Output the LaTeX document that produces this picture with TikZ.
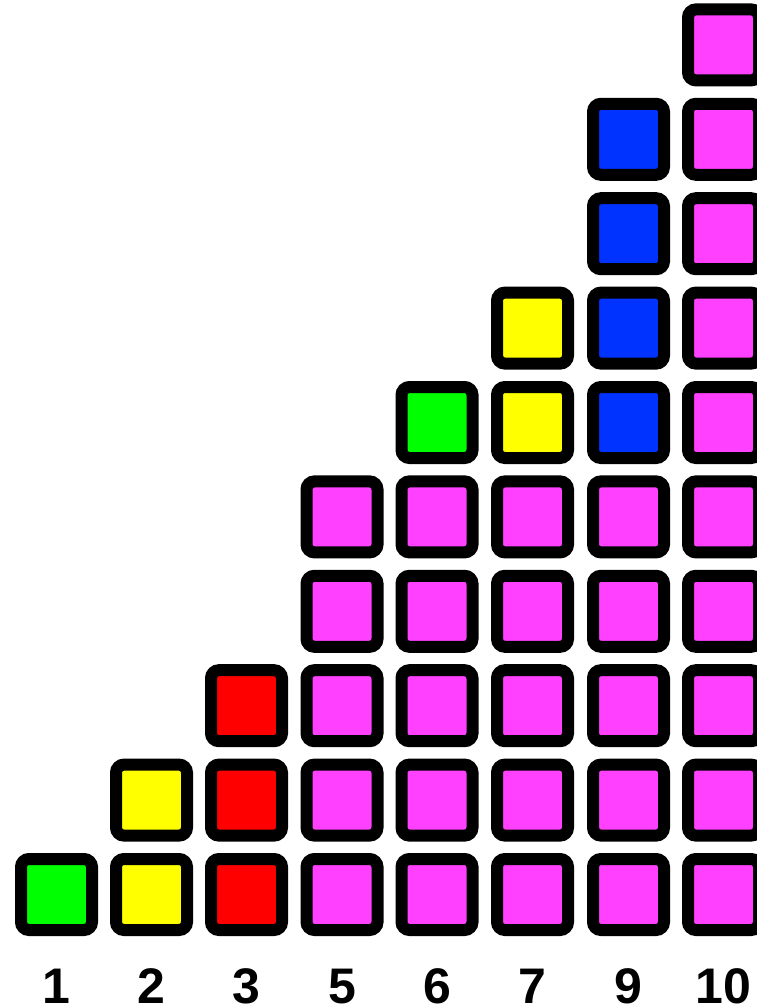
\documentclass[tikz,border=0pt]{standalone}
\usepackage{fontspec}
\setmainfont{Liberation Sans}
\definecolor{cgreen}{HTML}{00FF00}
\definecolor{cyellow}{HTML}{FFFF00}
\definecolor{cred}{HTML}{FF0000}
\definecolor{cpink}{HTML}{FF40FF}
\definecolor{cblue}{HTML}{0033FF}
\begin{document}
\begin{tikzpicture}[x=1pt,y=1pt,
  cell/.style={draw=black,line width=12pt,rounded corners=8pt,minimum size=71pt,inner sep=0pt,fill=#1},
  lab/.style={font=\fontsize{50}{60}\selectfont\bfseries,anchor=base,inner sep=0pt}]
\useasboundingbox (0,0) rectangle (757,-1007);
% column x positions
\def\colx#1{\ifcase#1\or56.5\or151.5\or246.5\or342\or437\or532.5\or628.5\or723.5\fi}
% rows: y = 894.5 - 94.4*r
\foreach \c/\n/\lbl in {1/1/1,2/2/2,3/3/3,4/5/5,5/5/6,6/5/7,7/5/9,8/10/10}{
  \pgfmathsetmacro{\xx}{\colx{\c}}
  \pgfmathtruncatemacro{\top}{\n-1}
  \foreach \r in {0,...,\top}{
    \pgfmathsetmacro{\yy}{-894.5+94.4*\r}
    \ifnum\c=1 \def\fc{cgreen}\fi
    \ifnum\c=2 \def\fc{cyellow}\fi
    \ifnum\c=3 \def\fc{cred}\fi
    \ifnum\c>3 \def\fc{cpink}\fi
    \node[cell=\fc] (s\c-\r) at (\xx,\yy) {};
  }
  \node[lab] (l\c) at (\xx,-1003) {\lbl};
}
% extra coloured cells on top
\node[cell=cgreen]  (s5-5) at (437,-894.5+94.4*5) {};
\node[cell=cyellow] (s6-5) at (532.5,-894.5+94.4*5) {};
\node[cell=cyellow] (s6-6) at (532.5,-894.5+94.4*6) {};
\node[cell=cblue]   (s7-5) at (628.5,-894.5+94.4*5) {};
\node[cell=cblue]   (s7-6) at (628.5,-894.5+94.4*6) {};
\node[cell=cblue]   (s7-7) at (628.5,-894.5+94.4*7) {};
\node[cell=cblue]   (s7-8) at (628.5,-894.5+94.4*8) {};
\end{tikzpicture}
\end{document}
